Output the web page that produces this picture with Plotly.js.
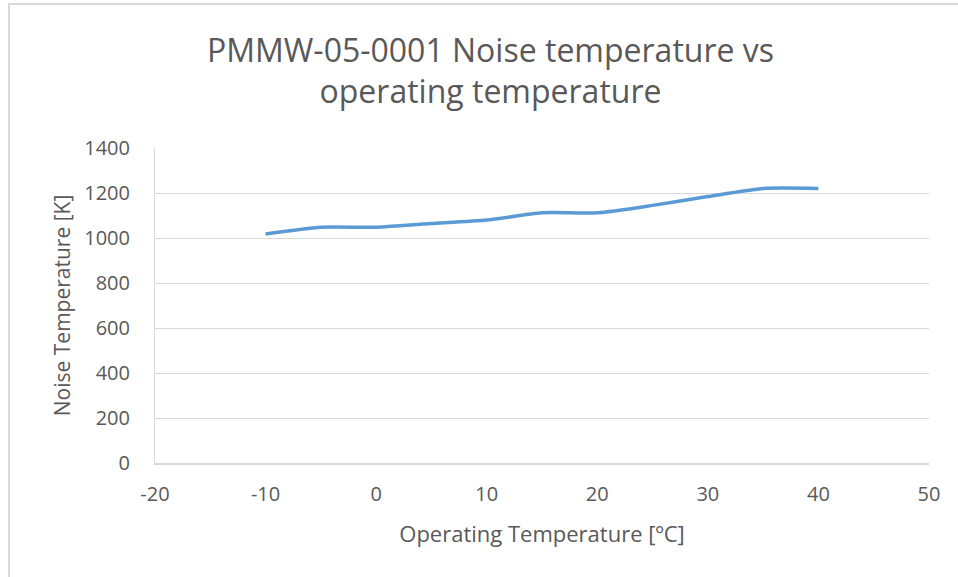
<!DOCTYPE html>
<html>
<head>
<meta charset="utf-8">
<script src="https://cdn.plot.ly/plotly-3.0.1.min.js"></script>
<style>
html,body{margin:0;padding:0;background:#fff;}
#wrap{position:relative;width:958px;height:577px;overflow:hidden;}
#chart{width:958px;height:577px;}
#frame{position:absolute;left:8px;top:3px;width:980px;height:600px;border-left:2px solid #d9d9d9;border-top:2px solid #d9d9d9;pointer-events:none;}
</style>
</head>
<body>
<div id="wrap"><div id="chart"></div><div id="frame"></div></div>
<script>
const operatingTemp = [-10, -5, 0, 5, 10, 15, 20, 25, 30, 35, 40];
const noiseTemp = [1018, 1048, 1048, 1064, 1080, 1112, 1112, 1145, 1184, 1220, 1220];
const xTicks = [-20, -10, 0, 10, 20, 30, 40, 50];
const yTicks = [0, 200, 400, 600, 800, 1000, 1200, 1400];

const grey = '#595959';
const font = 'Open Sans, Lato, sans-serif';

Plotly.newPlot('chart', [{
  x: operatingTemp,
  y: noiseTemp,
  type: 'scatter',
  mode: 'lines',
  line: {color: '#5b9bd5', width: 3.5, shape: 'spline', smoothing: 0.6},
  showlegend: false,
  hoverinfo: 'x+y'
}], {
  width: 958, height: 577,
  paper_bgcolor: 'rgba(0,0,0,0)', plot_bgcolor: '#fff',
  margin: {l: 155, r: 29, t: 148, b: 114},
  font: {family: font, color: grey},
  title: {
    text: 'PMMW-05-0001 Noise temperature vs<br>operating temperature',
    font: {family: font, size: 32, color: grey},
    x: 0.512, xanchor: 'center', y: 0.893, yanchor: 'top'
  },
  xaxis: {
    range: [-20, 50], tickvals: xTicks, ticktext: xTicks.map(String),
    showgrid: false, zeroline: false,
    showline: true, linecolor: '#d9d9d9', linewidth: 1.5,
    ticks: '', ticklabelstandoff: 12, tickfont: {size: 20, color: grey},
    title: {text: 'Operating Temperature [ºC]', font: {size: 22, color: grey}, standoff: 21}
  },
  yaxis: {
    range: [0, 1400], tickvals: yTicks, ticktext: yTicks.map(String),
    showgrid: true, gridcolor: '#d9d9d9', gridwidth: 1, zeroline: false,
    showline: true, linecolor: '#d9d9d9', linewidth: 1,
    ticks: '', ticklen: 0, ticklabelstandoff: 20, tickfont: {size: 20, color: grey},
    title: {text: 'Noise Temperature [K]', font: {size: 21, color: grey}, standoff: 7}
  }
}, {displayModeBar: false, staticPlot: true});
</script>
</body>
</html>
